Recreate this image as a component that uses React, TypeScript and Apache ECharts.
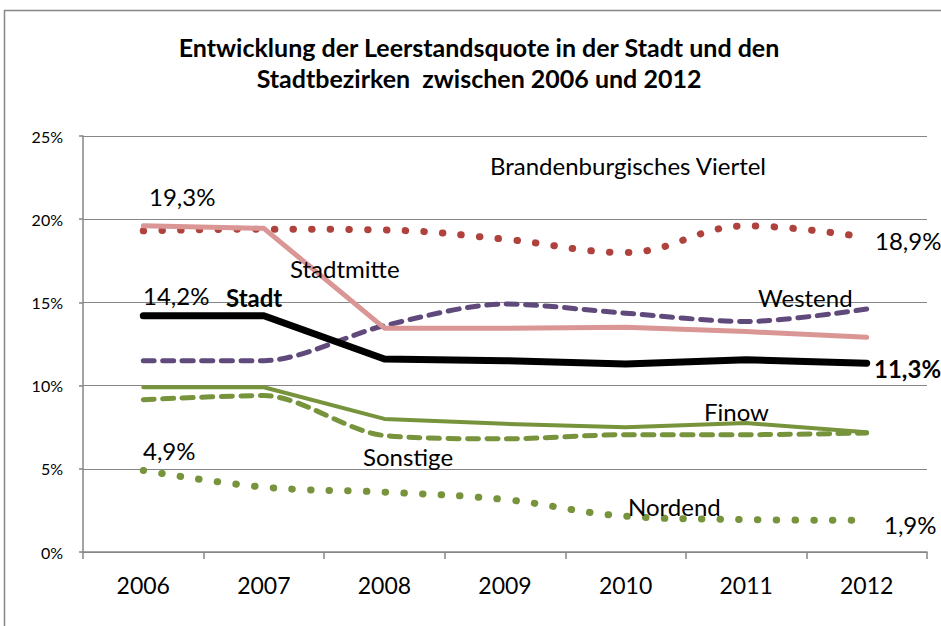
import React, { useEffect, useRef } from "react";
import * as echarts from "echarts";

const years = ["2006", "2007", "2008", "2009", "2010", "2011", "2012"];
const stadt = [14.2, 14.2, 11.6, 11.5, 11.3, 11.55, 11.35];
const stadtmitte = [19.6, 19.45, 13.45, 13.45, 13.5, 13.25, 12.9];
const brandenburg = [19.3, 19.4, 19.35, 18.8, 18.0, 19.6, 18.9];
const westend = [11.5, 11.5, 13.6, 14.9, 14.35, 13.85, 14.6];
const finow = [9.9, 9.9, 8.0, 7.7, 7.5, 7.75, 7.2];
const sonstige = [9.15, 9.4, 7.0, 6.8, 7.05, 7.05, 7.15];
const nordend = [4.9, 3.9, 3.6, 3.15, 2.15, 1.95, 1.9];

const FONT = "Lato";

export default function App() {
  const ref = useRef<HTMLDivElement>(null);
  useEffect(() => {
    const chart = echarts.init(ref.current!, undefined, { renderer: "svg" });
    const txt = (text: string, x: number, y: number, bold = false, size = 24) => ({
      type: "text",
      x,
      y,
      z: 100,
      style: {
        text,
        fill: "#000",
        font: `${bold ? "bold " : ""}${size}px ${FONT}`,
        textVerticalAlign: "middle",
      },
    });
    const dotted = (color: string) => ({
      color,
      width: 7,
      type: [0.5, 18.2],
      cap: "round",
    });
    const dashed = (color: string) => ({
      color,
      width: 5,
      type: [11, 8.5],
      cap: "round",
    });
    chart.setOption({
      animation: false,
      backgroundColor: "#fff",
      title: {
        text: "Entwicklung der Leerstandsquote in der Stadt und den\nStadtbezirken  zwischen 2006 und 2012",
        left: 474,
        top: 26,
        textAlign: "center",
        textStyle: {
          fontFamily: FONT,
          fontWeight: "bold",
          fontSize: 25,
          lineHeight: 31,
          color: "#000",
        },
      },
      grid: { left: 83, right: 14, top: 136, bottom: 74, containLabel: false },
      xAxis: {
        type: "category",
        data: years,
        boundaryGap: true,
        axisLine: { lineStyle: { color: "#868686", width: 1.5 } },
        axisTick: { show: true, length: 7, lineStyle: { color: "#868686", width: 1.5 } },
        axisLabel: { color: "#000", fontFamily: FONT, fontSize: 23, margin: 21 },
      },
      yAxis: {
        type: "value",
        min: 0,
        max: 25,
        interval: 5,
        axisLine: { show: true, lineStyle: { color: "#868686", width: 1.5 } },
        axisTick: { show: true, length: 4, lineStyle: { color: "#868686", width: 1.5 } },
        splitLine: { lineStyle: { color: "#868686", width: 1.2 } },
        axisLabel: {
          color: "#000",
          fontFamily: FONT,
          fontSize: 16,
          margin: 20,
          formatter: "{value}%",
        },
      },
      series: [
        {
          name: "Brandenburgisches Viertel",
          type: "line",
          data: brandenburg,
          smooth: 0.4,
          symbol: "none",
          lineStyle: dotted("#B0423E"),
        },
        {
          name: "Nordend",
          type: "line",
          data: nordend,
          smooth: 0.4,
          symbol: "none",
          lineStyle: dotted("#77933C"),
        },
        {
          name: "Sonstige",
          type: "line",
          data: sonstige,
          smooth: 0.3,
          symbol: "none",
          lineStyle: dashed("#77933C"),
        },
        {
          name: "Finow",
          type: "line",
          data: finow,
          symbol: "none",
          lineStyle: { color: "#77933C", width: 4, cap: "round", join: "round" },
        },
        {
          name: "Westend",
          type: "line",
          data: westend,
          smooth: 0.3,
          symbol: "none",
          lineStyle: dashed("#604A7B"),
        },
        {
          name: "Stadtmitte",
          type: "line",
          data: stadtmitte,
          symbol: "none",
          lineStyle: { color: "#D99694", width: 5, cap: "round", join: "round" },
        },
        {
          name: "Stadt",
          type: "line",
          data: stadt,
          symbol: "none",
          lineStyle: { color: "#000", width: 7, cap: "round", join: "round" },
        },
      ],
      graphic: [
        {
          type: "rect",
          shape: { x: 4.5, y: 10.5, width: 1000, height: 1000 },
          style: { fill: "none", stroke: "#868686", lineWidth: 1.5 },
          silent: true,
          z: -1,
        },
        txt("Brandenburgisches Viertel", 490, 165),
        txt("19,3%", 149, 196),
        txt("18,9%", 875, 240),
        txt("Stadtmitte", 290, 268),
        txt("14,2%", 143, 295),
        txt("Stadt", 226, 297, true),
        txt("Westend", 758, 297),
        txt("11,3%", 874, 368, true),
        txt("Finow", 704, 411),
        txt("Sonstige", 363, 456),
        txt("4,9%", 143, 450),
        txt("Nordend", 628, 506),
        txt("1,9%", 884, 524),
      ],
    });
    return () => chart.dispose();
  }, []);
  return (
    <div
      ref={ref}
      style={{ position: "absolute", left: 0, top: 0, width: 941, height: 626 }}
    />
  );
}
